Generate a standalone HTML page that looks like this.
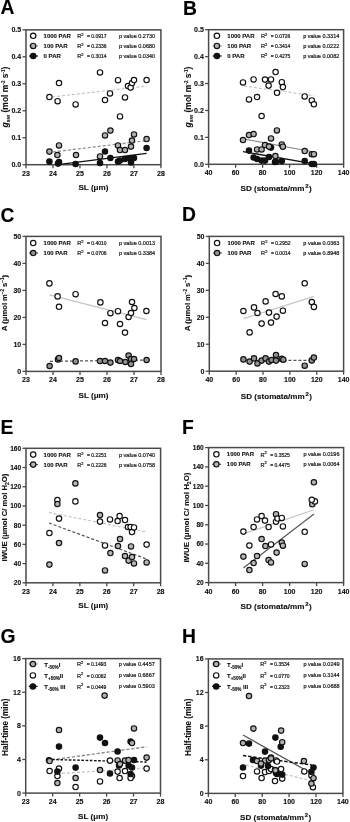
<!DOCTYPE html>
<html><head><meta charset="utf-8"><style>
html,body{margin:0;padding:0;background:#fff;}
svg{display:block;font-family:"Liberation Sans", sans-serif;filter:grayscale(1);}
text[font-weight=bold]{stroke:#111;stroke-width:0.12px;}
text.r{stroke:#222;stroke-width:0.22px;}
</style></head><body>
<svg width="350" height="822" viewBox="0 0 350 822">
<rect width="350" height="822" fill="#fff"/>
<text x="0.5" y="13.5" font-size="19.3" font-weight="bold" fill="#000">A</text>
<rect x="26" y="29.85" width="134.9" height="134.85" fill="none" stroke="#4a4a4a" stroke-width="1.5"/>
<line x1="22.5" y1="164.70" x2="26" y2="164.70" stroke="#4a4a4a" stroke-width="1.3"/>
<text x="21.2" y="167.10" font-size="7" font-weight="bold" text-anchor="end" fill="#111">0.0</text>
<line x1="22.5" y1="137.73" x2="26" y2="137.73" stroke="#4a4a4a" stroke-width="1.3"/>
<text x="21.2" y="140.13" font-size="7" font-weight="bold" text-anchor="end" fill="#111">0.1</text>
<line x1="22.5" y1="110.76" x2="26" y2="110.76" stroke="#4a4a4a" stroke-width="1.3"/>
<text x="21.2" y="113.16" font-size="7" font-weight="bold" text-anchor="end" fill="#111">0.2</text>
<line x1="22.5" y1="83.79" x2="26" y2="83.79" stroke="#4a4a4a" stroke-width="1.3"/>
<text x="21.2" y="86.19" font-size="7" font-weight="bold" text-anchor="end" fill="#111">0.3</text>
<line x1="22.5" y1="56.82" x2="26" y2="56.82" stroke="#4a4a4a" stroke-width="1.3"/>
<text x="21.2" y="59.22" font-size="7" font-weight="bold" text-anchor="end" fill="#111">0.4</text>
<line x1="22.5" y1="29.85" x2="26" y2="29.85" stroke="#4a4a4a" stroke-width="1.3"/>
<text x="21.2" y="32.25" font-size="7" font-weight="bold" text-anchor="end" fill="#111">0.5</text>
<line x1="26.00" y1="164.7" x2="26.00" y2="168.2" stroke="#4a4a4a" stroke-width="1.3"/>
<text x="26.00" y="175.7" font-size="7" font-weight="bold" text-anchor="middle" fill="#111">23</text>
<line x1="52.98" y1="164.7" x2="52.98" y2="168.2" stroke="#4a4a4a" stroke-width="1.3"/>
<text x="52.98" y="175.7" font-size="7" font-weight="bold" text-anchor="middle" fill="#111">24</text>
<line x1="79.96" y1="164.7" x2="79.96" y2="168.2" stroke="#4a4a4a" stroke-width="1.3"/>
<text x="79.96" y="175.7" font-size="7" font-weight="bold" text-anchor="middle" fill="#111">25</text>
<line x1="106.94" y1="164.7" x2="106.94" y2="168.2" stroke="#4a4a4a" stroke-width="1.3"/>
<text x="106.94" y="175.7" font-size="7" font-weight="bold" text-anchor="middle" fill="#111">26</text>
<line x1="133.92" y1="164.7" x2="133.92" y2="168.2" stroke="#4a4a4a" stroke-width="1.3"/>
<text x="133.92" y="175.7" font-size="7" font-weight="bold" text-anchor="middle" fill="#111">27</text>
<line x1="160.90" y1="164.7" x2="160.90" y2="168.2" stroke="#4a4a4a" stroke-width="1.3"/>
<text x="160.90" y="175.7" font-size="7" font-weight="bold" text-anchor="middle" fill="#111">28</text>
<text x="93.45" y="189.8" font-size="8.1" font-weight="bold" text-anchor="middle" fill="#111">SL (μm)</text>
<text transform="translate(8,97) rotate(-90)" x="0" y="0" font-size="8.5" font-weight="bold" text-anchor="middle" fill="#111"><tspan font-style="italic">g</tspan><tspan font-size="5.5" dy="2">sw</tspan><tspan dy="-2"> (mol m</tspan><tspan font-size="4.5" dy="-3">-2</tspan><tspan dy="3"> s</tspan><tspan font-size="4.5" dy="-3">-1</tspan><tspan dy="3">)</tspan></text>
<line x1="52" y1="97" x2="147" y2="86" stroke="#c4c4c4" stroke-width="1.2" stroke-dasharray="3,2"/>
<line x1="53" y1="152" x2="146.6" y2="140.6" stroke="#8a8a8a" stroke-width="1.2" stroke-dasharray="3,2"/>
<line x1="60" y1="164.4" x2="146.6" y2="153.4" stroke="#111" stroke-width="1.3"/>
<circle cx="49.4" cy="97" r="2.7" fill="#fff" stroke="#111" stroke-width="1.15"/>
<circle cx="57.6" cy="101.2" r="2.7" fill="#fff" stroke="#111" stroke-width="1.15"/>
<circle cx="59" cy="83" r="2.7" fill="#fff" stroke="#111" stroke-width="1.15"/>
<circle cx="75.6" cy="104.4" r="2.7" fill="#fff" stroke="#111" stroke-width="1.15"/>
<circle cx="100" cy="72.4" r="2.7" fill="#fff" stroke="#111" stroke-width="1.15"/>
<circle cx="105" cy="100" r="2.7" fill="#fff" stroke="#111" stroke-width="1.15"/>
<circle cx="110" cy="93.4" r="2.7" fill="#fff" stroke="#111" stroke-width="1.15"/>
<circle cx="118" cy="80.2" r="2.7" fill="#fff" stroke="#111" stroke-width="1.15"/>
<circle cx="120" cy="116.4" r="2.7" fill="#fff" stroke="#111" stroke-width="1.15"/>
<circle cx="125" cy="97.4" r="2.7" fill="#fff" stroke="#111" stroke-width="1.15"/>
<circle cx="128" cy="86" r="2.7" fill="#fff" stroke="#111" stroke-width="1.15"/>
<circle cx="130.6" cy="87.6" r="2.7" fill="#fff" stroke="#111" stroke-width="1.15"/>
<circle cx="132" cy="83" r="2.7" fill="#fff" stroke="#111" stroke-width="1.15"/>
<circle cx="134" cy="80" r="2.7" fill="#fff" stroke="#111" stroke-width="1.15"/>
<circle cx="146.6" cy="80" r="2.7" fill="#fff" stroke="#111" stroke-width="1.15"/>
<circle cx="49.4" cy="161.6" r="2.7" fill="#111" stroke="#111" stroke-width="1.15"/>
<circle cx="58" cy="163.6" r="2.7" fill="#111" stroke="#111" stroke-width="1.15"/>
<circle cx="59" cy="162" r="2.7" fill="#111" stroke="#111" stroke-width="1.15"/>
<circle cx="75.6" cy="164" r="2.7" fill="#111" stroke="#111" stroke-width="1.15"/>
<circle cx="100" cy="163" r="2.7" fill="#111" stroke="#111" stroke-width="1.15"/>
<circle cx="105" cy="151.4" r="2.7" fill="#111" stroke="#111" stroke-width="1.15"/>
<circle cx="110.4" cy="158" r="2.7" fill="#111" stroke="#111" stroke-width="1.15"/>
<circle cx="118" cy="161.6" r="2.7" fill="#111" stroke="#111" stroke-width="1.15"/>
<circle cx="120" cy="160.6" r="2.7" fill="#111" stroke="#111" stroke-width="1.15"/>
<circle cx="125" cy="159" r="2.7" fill="#111" stroke="#111" stroke-width="1.15"/>
<circle cx="130" cy="158" r="2.7" fill="#111" stroke="#111" stroke-width="1.15"/>
<circle cx="131" cy="162.4" r="2.7" fill="#111" stroke="#111" stroke-width="1.15"/>
<circle cx="134" cy="158" r="2.7" fill="#111" stroke="#111" stroke-width="1.15"/>
<circle cx="146.6" cy="148" r="2.7" fill="#111" stroke="#111" stroke-width="1.15"/>
<circle cx="49.4" cy="151.6" r="2.7" fill="#b0b0b0" stroke="#111" stroke-width="1.15"/>
<circle cx="57.4" cy="155" r="2.7" fill="#b0b0b0" stroke="#111" stroke-width="1.15"/>
<circle cx="59" cy="145.4" r="2.7" fill="#b0b0b0" stroke="#111" stroke-width="1.15"/>
<circle cx="76" cy="155" r="2.7" fill="#b0b0b0" stroke="#111" stroke-width="1.15"/>
<circle cx="100" cy="156.4" r="2.7" fill="#b0b0b0" stroke="#111" stroke-width="1.15"/>
<circle cx="105" cy="135.4" r="2.7" fill="#b0b0b0" stroke="#111" stroke-width="1.15"/>
<circle cx="110.4" cy="130.6" r="2.7" fill="#b0b0b0" stroke="#111" stroke-width="1.15"/>
<circle cx="118" cy="145.4" r="2.7" fill="#b0b0b0" stroke="#111" stroke-width="1.15"/>
<circle cx="120" cy="150" r="2.7" fill="#b0b0b0" stroke="#111" stroke-width="1.15"/>
<circle cx="125" cy="150" r="2.7" fill="#b0b0b0" stroke="#111" stroke-width="1.15"/>
<circle cx="131" cy="146.6" r="2.7" fill="#b0b0b0" stroke="#111" stroke-width="1.15"/>
<circle cx="132" cy="140.6" r="2.7" fill="#b0b0b0" stroke="#111" stroke-width="1.15"/>
<circle cx="134" cy="134.4" r="2.7" fill="#b0b0b0" stroke="#111" stroke-width="1.15"/>
<circle cx="146.6" cy="139" r="2.7" fill="#b0b0b0" stroke="#111" stroke-width="1.15"/>
<line x1="29" y1="35.8" x2="38" y2="35.8" stroke="#e0e0e0" stroke-width="1.2"/>
<circle cx="33.2" cy="35.8" r="2.7" fill="#fff" stroke="#111" stroke-width="1.15"/>
<text x="43.6" y="37.9" font-size="6.0" font-weight="bold" fill="#111">1000 PAR</text>
<text x="77.2" y="38.099999999999994" font-size="5.6" fill="#222" class="r">R<tspan font-size="4" dy="-2.4">2</tspan></text>
<text x="87" y="38.099999999999994" font-size="5.0" fill="#222" class="r">= 0.0917</text>
<text x="119" y="37.8" font-size="5.5" fill="#222" class="r">p value 0.2730</text>
<line x1="29" y1="45.9" x2="38" y2="45.9" stroke="#8a8a8a" stroke-width="1.2"/>
<circle cx="33.2" cy="45.9" r="2.7" fill="#b0b0b0" stroke="#111" stroke-width="1.15"/>
<text x="43.6" y="48.0" font-size="6.0" font-weight="bold" fill="#111">100 PAR</text>
<text x="77.2" y="48.199999999999996" font-size="5.6" fill="#222" class="r">R<tspan font-size="4" dy="-2.4">2</tspan></text>
<text x="87" y="48.199999999999996" font-size="5.0" fill="#222" class="r">= 0.2336</text>
<text x="119" y="47.9" font-size="5.5" fill="#222" class="r">p value 0.0680</text>
<line x1="29" y1="56" x2="38" y2="56" stroke="#111" stroke-width="1.2"/>
<circle cx="33.2" cy="56" r="2.7" fill="#111" stroke="#111" stroke-width="1.15"/>
<text x="43.6" y="58.1" font-size="6.0" font-weight="bold" fill="#111">0 PAR</text>
<text x="77.2" y="58.3" font-size="5.6" fill="#222" class="r">R<tspan font-size="4" dy="-2.4">2</tspan></text>
<text x="87" y="58.3" font-size="5.0" fill="#222" class="r">= 0.3014</text>
<text x="119" y="58" font-size="5.5" fill="#222" class="r">p value 0.0340</text>
<text x="183" y="14.8" font-size="19.3" font-weight="bold" fill="#000">B</text>
<rect x="208.6" y="29.7" width="135.00000000000003" height="134.60000000000002" fill="none" stroke="#4a4a4a" stroke-width="1.5"/>
<line x1="205.1" y1="164.30" x2="208.6" y2="164.30" stroke="#4a4a4a" stroke-width="1.3"/>
<text x="203.79999999999998" y="166.70" font-size="7" font-weight="bold" text-anchor="end" fill="#111">0.0</text>
<line x1="205.1" y1="137.38" x2="208.6" y2="137.38" stroke="#4a4a4a" stroke-width="1.3"/>
<text x="203.79999999999998" y="139.78" font-size="7" font-weight="bold" text-anchor="end" fill="#111">0.1</text>
<line x1="205.1" y1="110.46" x2="208.6" y2="110.46" stroke="#4a4a4a" stroke-width="1.3"/>
<text x="203.79999999999998" y="112.86" font-size="7" font-weight="bold" text-anchor="end" fill="#111">0.2</text>
<line x1="205.1" y1="83.54" x2="208.6" y2="83.54" stroke="#4a4a4a" stroke-width="1.3"/>
<text x="203.79999999999998" y="85.94" font-size="7" font-weight="bold" text-anchor="end" fill="#111">0.3</text>
<line x1="205.1" y1="56.62" x2="208.6" y2="56.62" stroke="#4a4a4a" stroke-width="1.3"/>
<text x="203.79999999999998" y="59.02" font-size="7" font-weight="bold" text-anchor="end" fill="#111">0.4</text>
<line x1="205.1" y1="29.70" x2="208.6" y2="29.70" stroke="#4a4a4a" stroke-width="1.3"/>
<text x="203.79999999999998" y="32.10" font-size="7" font-weight="bold" text-anchor="end" fill="#111">0.5</text>
<line x1="208.60" y1="164.3" x2="208.60" y2="167.8" stroke="#4a4a4a" stroke-width="1.3"/>
<text x="208.60" y="175.3" font-size="7" font-weight="bold" text-anchor="middle" fill="#111">40</text>
<line x1="235.60" y1="164.3" x2="235.60" y2="167.8" stroke="#4a4a4a" stroke-width="1.3"/>
<text x="235.60" y="175.3" font-size="7" font-weight="bold" text-anchor="middle" fill="#111">60</text>
<line x1="262.60" y1="164.3" x2="262.60" y2="167.8" stroke="#4a4a4a" stroke-width="1.3"/>
<text x="262.60" y="175.3" font-size="7" font-weight="bold" text-anchor="middle" fill="#111">80</text>
<line x1="289.60" y1="164.3" x2="289.60" y2="167.8" stroke="#4a4a4a" stroke-width="1.3"/>
<text x="289.60" y="175.3" font-size="7" font-weight="bold" text-anchor="middle" fill="#111">100</text>
<line x1="316.60" y1="164.3" x2="316.60" y2="167.8" stroke="#4a4a4a" stroke-width="1.3"/>
<text x="316.60" y="175.3" font-size="7" font-weight="bold" text-anchor="middle" fill="#111">120</text>
<line x1="343.60" y1="164.3" x2="343.60" y2="167.8" stroke="#4a4a4a" stroke-width="1.3"/>
<text x="343.60" y="175.3" font-size="7" font-weight="bold" text-anchor="middle" fill="#111">140</text>
<text x="276.10" y="191.3" font-size="8.1" font-weight="bold" text-anchor="middle" fill="#111">SD (stomata/mm<tspan font-size="6" dx="0.9" dy="-2.9">2</tspan><tspan dy="2.9" dx="0.4">)</tspan></text>
<text transform="translate(190.5,97) rotate(-90)" x="0" y="0" font-size="8.5" font-weight="bold" text-anchor="middle" fill="#111"><tspan font-style="italic">g</tspan><tspan font-size="5.5" dy="2">sw</tspan><tspan dy="-2"> (mol m</tspan><tspan font-size="4.5" dy="-3">-2</tspan><tspan dy="3"> s</tspan><tspan font-size="4.5" dy="-3">-1</tspan><tspan dy="3">)</tspan></text>
<line x1="244" y1="86" x2="314" y2="95.7" stroke="#c4c4c4" stroke-width="1.2" stroke-dasharray="3,2"/>
<line x1="246" y1="139.4" x2="314" y2="152" stroke="#8a8a8a" stroke-width="1.2"/>
<line x1="243" y1="151.6" x2="314" y2="163.9" stroke="#111" stroke-width="1.3"/>
<circle cx="243" cy="82.4" r="2.7" fill="#fff" stroke="#111" stroke-width="1.15"/>
<circle cx="249" cy="99.4" r="2.7" fill="#fff" stroke="#111" stroke-width="1.15"/>
<circle cx="253.6" cy="79.4" r="2.7" fill="#fff" stroke="#111" stroke-width="1.15"/>
<circle cx="257" cy="97" r="2.7" fill="#fff" stroke="#111" stroke-width="1.15"/>
<circle cx="261.6" cy="116" r="2.7" fill="#fff" stroke="#111" stroke-width="1.15"/>
<circle cx="265" cy="79.6" r="2.7" fill="#fff" stroke="#111" stroke-width="1.15"/>
<circle cx="268.6" cy="85.6" r="2.7" fill="#fff" stroke="#111" stroke-width="1.15"/>
<circle cx="271" cy="79.4" r="2.7" fill="#fff" stroke="#111" stroke-width="1.15"/>
<circle cx="275.6" cy="72" r="2.7" fill="#fff" stroke="#111" stroke-width="1.15"/>
<circle cx="277" cy="92.8" r="2.7" fill="#fff" stroke="#111" stroke-width="1.15"/>
<circle cx="281.8" cy="82.2" r="2.7" fill="#fff" stroke="#111" stroke-width="1.15"/>
<circle cx="282.9" cy="87.1" r="2.7" fill="#fff" stroke="#111" stroke-width="1.15"/>
<circle cx="304.7" cy="96.4" r="2.7" fill="#fff" stroke="#111" stroke-width="1.15"/>
<circle cx="311.8" cy="100.4" r="2.7" fill="#fff" stroke="#111" stroke-width="1.15"/>
<circle cx="313.9" cy="104.3" r="2.7" fill="#fff" stroke="#111" stroke-width="1.15"/>
<circle cx="249" cy="150.6" r="2.7" fill="#111" stroke="#111" stroke-width="1.15"/>
<circle cx="253.6" cy="157.4" r="2.7" fill="#111" stroke="#111" stroke-width="1.15"/>
<circle cx="257" cy="159" r="2.7" fill="#111" stroke="#111" stroke-width="1.15"/>
<circle cx="261.6" cy="160.6" r="2.7" fill="#111" stroke="#111" stroke-width="1.15"/>
<circle cx="265" cy="160.6" r="2.7" fill="#111" stroke="#111" stroke-width="1.15"/>
<circle cx="269" cy="157" r="2.7" fill="#111" stroke="#111" stroke-width="1.15"/>
<circle cx="271" cy="147.6" r="2.7" fill="#111" stroke="#111" stroke-width="1.15"/>
<circle cx="275" cy="162" r="2.7" fill="#111" stroke="#111" stroke-width="1.15"/>
<circle cx="276" cy="161.7" r="2.7" fill="#111" stroke="#111" stroke-width="1.15"/>
<circle cx="281.8" cy="161" r="2.7" fill="#111" stroke="#111" stroke-width="1.15"/>
<circle cx="304.7" cy="161" r="2.7" fill="#111" stroke="#111" stroke-width="1.15"/>
<circle cx="311.8" cy="163.9" r="2.7" fill="#111" stroke="#111" stroke-width="1.15"/>
<circle cx="313.9" cy="163.9" r="2.7" fill="#111" stroke="#111" stroke-width="1.15"/>
<circle cx="243" cy="140" r="2.7" fill="#b0b0b0" stroke="#111" stroke-width="1.15"/>
<circle cx="249" cy="135" r="2.7" fill="#b0b0b0" stroke="#111" stroke-width="1.15"/>
<circle cx="253.6" cy="134" r="2.7" fill="#b0b0b0" stroke="#111" stroke-width="1.15"/>
<circle cx="257" cy="149.4" r="2.7" fill="#b0b0b0" stroke="#111" stroke-width="1.15"/>
<circle cx="261.6" cy="149.4" r="2.7" fill="#b0b0b0" stroke="#111" stroke-width="1.15"/>
<circle cx="265" cy="145" r="2.7" fill="#b0b0b0" stroke="#111" stroke-width="1.15"/>
<circle cx="269" cy="146.6" r="2.7" fill="#b0b0b0" stroke="#111" stroke-width="1.15"/>
<circle cx="271" cy="138.4" r="2.7" fill="#b0b0b0" stroke="#111" stroke-width="1.15"/>
<circle cx="276.9" cy="130.4" r="2.7" fill="#b0b0b0" stroke="#111" stroke-width="1.15"/>
<circle cx="275.4" cy="156" r="2.7" fill="#b0b0b0" stroke="#111" stroke-width="1.15"/>
<circle cx="281.8" cy="144.4" r="2.7" fill="#b0b0b0" stroke="#111" stroke-width="1.15"/>
<circle cx="282.9" cy="146.7" r="2.7" fill="#b0b0b0" stroke="#111" stroke-width="1.15"/>
<circle cx="304.7" cy="151" r="2.7" fill="#b0b0b0" stroke="#111" stroke-width="1.15"/>
<circle cx="311.8" cy="154.2" r="2.7" fill="#b0b0b0" stroke="#111" stroke-width="1.15"/>
<circle cx="313.9" cy="154.2" r="2.7" fill="#b0b0b0" stroke="#111" stroke-width="1.15"/>
<line x1="212.7" y1="35.8" x2="221.7" y2="35.8" stroke="#e0e0e0" stroke-width="1.2"/>
<circle cx="216.89999999999998" cy="35.8" r="2.7" fill="#fff" stroke="#111" stroke-width="1.15"/>
<text x="227.29999999999998" y="37.9" font-size="6.0" font-weight="bold" fill="#111">1000 PAR</text>
<text x="260.9" y="38.099999999999994" font-size="5.6" fill="#222" class="r">R<tspan font-size="4" dy="-2.4">2</tspan></text>
<text x="270.7" y="38.099999999999994" font-size="5.0" fill="#222" class="r">= 0.0726</text>
<text x="303.2" y="37.8" font-size="5.5" fill="#222" class="r">p value 0.3314</text>
<line x1="212.7" y1="45.9" x2="221.7" y2="45.9" stroke="#8a8a8a" stroke-width="1.2"/>
<circle cx="216.89999999999998" cy="45.9" r="2.7" fill="#b0b0b0" stroke="#111" stroke-width="1.15"/>
<text x="227.29999999999998" y="48.0" font-size="6.0" font-weight="bold" fill="#111">100 PAR</text>
<text x="260.9" y="48.199999999999996" font-size="5.6" fill="#222" class="r">R<tspan font-size="4" dy="-2.4">2</tspan></text>
<text x="270.7" y="48.199999999999996" font-size="5.0" fill="#222" class="r">= 0.3414</text>
<text x="303.2" y="47.9" font-size="5.5" fill="#222" class="r">p value 0.0222</text>
<line x1="212.7" y1="56" x2="221.7" y2="56" stroke="#111" stroke-width="1.2"/>
<circle cx="216.89999999999998" cy="56" r="2.7" fill="#111" stroke="#111" stroke-width="1.15"/>
<text x="227.29999999999998" y="58.1" font-size="6.0" font-weight="bold" fill="#111">0 PAR</text>
<text x="260.9" y="58.3" font-size="5.6" fill="#222" class="r">R<tspan font-size="4" dy="-2.4">2</tspan></text>
<text x="270.7" y="58.3" font-size="5.0" fill="#222" class="r">= 0.4275</text>
<text x="303.2" y="58" font-size="5.5" fill="#222" class="r">p value 0.0082</text>
<text x="0.5" y="221.5" font-size="19.3" font-weight="bold" fill="#000">C</text>
<rect x="26" y="236.4" width="135" height="134.99999999999997" fill="none" stroke="#4a4a4a" stroke-width="1.5"/>
<line x1="22.5" y1="371.40" x2="26" y2="371.40" stroke="#4a4a4a" stroke-width="1.3"/>
<text x="21.2" y="373.80" font-size="7" font-weight="bold" text-anchor="end" fill="#111">0</text>
<line x1="22.5" y1="344.40" x2="26" y2="344.40" stroke="#4a4a4a" stroke-width="1.3"/>
<text x="21.2" y="346.80" font-size="7" font-weight="bold" text-anchor="end" fill="#111">10</text>
<line x1="22.5" y1="317.40" x2="26" y2="317.40" stroke="#4a4a4a" stroke-width="1.3"/>
<text x="21.2" y="319.80" font-size="7" font-weight="bold" text-anchor="end" fill="#111">20</text>
<line x1="22.5" y1="290.40" x2="26" y2="290.40" stroke="#4a4a4a" stroke-width="1.3"/>
<text x="21.2" y="292.80" font-size="7" font-weight="bold" text-anchor="end" fill="#111">30</text>
<line x1="22.5" y1="263.40" x2="26" y2="263.40" stroke="#4a4a4a" stroke-width="1.3"/>
<text x="21.2" y="265.80" font-size="7" font-weight="bold" text-anchor="end" fill="#111">40</text>
<line x1="22.5" y1="236.40" x2="26" y2="236.40" stroke="#4a4a4a" stroke-width="1.3"/>
<text x="21.2" y="238.80" font-size="7" font-weight="bold" text-anchor="end" fill="#111">50</text>
<line x1="26.00" y1="371.4" x2="26.00" y2="374.9" stroke="#4a4a4a" stroke-width="1.3"/>
<text x="26.00" y="382.4" font-size="7" font-weight="bold" text-anchor="middle" fill="#111">23</text>
<line x1="53.00" y1="371.4" x2="53.00" y2="374.9" stroke="#4a4a4a" stroke-width="1.3"/>
<text x="53.00" y="382.4" font-size="7" font-weight="bold" text-anchor="middle" fill="#111">24</text>
<line x1="80.00" y1="371.4" x2="80.00" y2="374.9" stroke="#4a4a4a" stroke-width="1.3"/>
<text x="80.00" y="382.4" font-size="7" font-weight="bold" text-anchor="middle" fill="#111">25</text>
<line x1="107.00" y1="371.4" x2="107.00" y2="374.9" stroke="#4a4a4a" stroke-width="1.3"/>
<text x="107.00" y="382.4" font-size="7" font-weight="bold" text-anchor="middle" fill="#111">26</text>
<line x1="134.00" y1="371.4" x2="134.00" y2="374.9" stroke="#4a4a4a" stroke-width="1.3"/>
<text x="134.00" y="382.4" font-size="7" font-weight="bold" text-anchor="middle" fill="#111">27</text>
<line x1="161.00" y1="371.4" x2="161.00" y2="374.9" stroke="#4a4a4a" stroke-width="1.3"/>
<text x="161.00" y="382.4" font-size="7" font-weight="bold" text-anchor="middle" fill="#111">28</text>
<text x="93.50" y="398" font-size="8.1" font-weight="bold" text-anchor="middle" fill="#111">SL (μm)</text>
<text transform="translate(7.2,303) rotate(-90)" x="0" y="0" font-size="7.6" font-weight="bold" text-anchor="middle" fill="#111">A (μmol m<tspan font-size="4.5" dy="-3">−2</tspan><tspan dy="3"> s</tspan><tspan font-size="4.5" dy="-3">−1</tspan><tspan dy="3">)</tspan></text>
<line x1="49.4" y1="294.8" x2="146.6" y2="319.6" stroke="#c4c4c4" stroke-width="1.2"/>
<line x1="50" y1="361.4" x2="146.6" y2="360" stroke="#555555" stroke-width="1.2" stroke-dasharray="3,2"/>
<circle cx="49.4" cy="283.4" r="2.7" fill="#fff" stroke="#111" stroke-width="1.15"/>
<circle cx="57.6" cy="296.4" r="2.7" fill="#fff" stroke="#111" stroke-width="1.15"/>
<circle cx="59" cy="306.8" r="2.7" fill="#fff" stroke="#111" stroke-width="1.15"/>
<circle cx="75.6" cy="294.2" r="2.7" fill="#fff" stroke="#111" stroke-width="1.15"/>
<circle cx="100.4" cy="302.4" r="2.7" fill="#fff" stroke="#111" stroke-width="1.15"/>
<circle cx="105" cy="323" r="2.7" fill="#fff" stroke="#111" stroke-width="1.15"/>
<circle cx="110.4" cy="313.2" r="2.7" fill="#fff" stroke="#111" stroke-width="1.15"/>
<circle cx="118" cy="311.2" r="2.7" fill="#fff" stroke="#111" stroke-width="1.15"/>
<circle cx="120" cy="324" r="2.7" fill="#fff" stroke="#111" stroke-width="1.15"/>
<circle cx="125" cy="332.6" r="2.7" fill="#fff" stroke="#111" stroke-width="1.15"/>
<circle cx="128.6" cy="317" r="2.7" fill="#fff" stroke="#111" stroke-width="1.15"/>
<circle cx="131" cy="313" r="2.7" fill="#fff" stroke="#111" stroke-width="1.15"/>
<circle cx="132" cy="302" r="2.7" fill="#fff" stroke="#111" stroke-width="1.15"/>
<circle cx="134.4" cy="308" r="2.7" fill="#fff" stroke="#111" stroke-width="1.15"/>
<circle cx="146.4" cy="311" r="2.7" fill="#fff" stroke="#111" stroke-width="1.15"/>
<circle cx="49.6" cy="366" r="2.7" fill="#939393" stroke="#111" stroke-width="1.15"/>
<circle cx="58" cy="359.4" r="2.7" fill="#939393" stroke="#111" stroke-width="1.15"/>
<circle cx="59" cy="358" r="2.7" fill="#939393" stroke="#111" stroke-width="1.15"/>
<circle cx="75.6" cy="361.4" r="2.7" fill="#939393" stroke="#111" stroke-width="1.15"/>
<circle cx="100" cy="361" r="2.7" fill="#939393" stroke="#111" stroke-width="1.15"/>
<circle cx="105" cy="361" r="2.7" fill="#939393" stroke="#111" stroke-width="1.15"/>
<circle cx="110.4" cy="362.6" r="2.7" fill="#939393" stroke="#111" stroke-width="1.15"/>
<circle cx="118" cy="360" r="2.7" fill="#939393" stroke="#111" stroke-width="1.15"/>
<circle cx="120" cy="361" r="2.7" fill="#939393" stroke="#111" stroke-width="1.15"/>
<circle cx="125.4" cy="362" r="2.7" fill="#939393" stroke="#111" stroke-width="1.15"/>
<circle cx="128.6" cy="355.6" r="2.7" fill="#939393" stroke="#111" stroke-width="1.15"/>
<circle cx="131" cy="359" r="2.7" fill="#939393" stroke="#111" stroke-width="1.15"/>
<circle cx="134" cy="359" r="2.7" fill="#939393" stroke="#111" stroke-width="1.15"/>
<circle cx="131" cy="364" r="2.7" fill="#939393" stroke="#111" stroke-width="1.15"/>
<circle cx="146.6" cy="360" r="2.7" fill="#939393" stroke="#111" stroke-width="1.15"/>
<circle cx="33.2" cy="243" r="2.7" fill="#fff" stroke="#111" stroke-width="1.15"/>
<text x="43.6" y="245.1" font-size="6.0" font-weight="bold" fill="#111">1000 PAR</text>
<text x="77.2" y="245.3" font-size="5.6" fill="#222" class="r">R<tspan font-size="4" dy="-2.4">2</tspan></text>
<text x="87" y="245.3" font-size="5.0" fill="#222" class="r">= 0.4010</text>
<text x="119" y="245" font-size="5.5" fill="#222" class="r">p value 0.0013</text>
<line x1="29" y1="253" x2="38" y2="253" stroke="#555555" stroke-width="1.2"/>
<circle cx="33.2" cy="253" r="2.7" fill="#939393" stroke="#111" stroke-width="1.15"/>
<text x="43.6" y="255.1" font-size="6.0" font-weight="bold" fill="#111">100 PAR</text>
<text x="77.2" y="255.3" font-size="5.6" fill="#222" class="r">R<tspan font-size="4" dy="-2.4">2</tspan></text>
<text x="87" y="255.3" font-size="5.0" fill="#222" class="r">= 0.0706</text>
<text x="119" y="255" font-size="5.5" fill="#222" class="r">p value 0.3384</text>
<text x="182" y="221.3" font-size="19.3" font-weight="bold" fill="#000">D</text>
<rect x="209.3" y="236.4" width="134.3" height="134.79999999999998" fill="none" stroke="#4a4a4a" stroke-width="1.5"/>
<line x1="205.8" y1="371.20" x2="209.3" y2="371.20" stroke="#4a4a4a" stroke-width="1.3"/>
<text x="204.5" y="373.60" font-size="7" font-weight="bold" text-anchor="end" fill="#111">0</text>
<line x1="205.8" y1="344.24" x2="209.3" y2="344.24" stroke="#4a4a4a" stroke-width="1.3"/>
<text x="204.5" y="346.64" font-size="7" font-weight="bold" text-anchor="end" fill="#111">10</text>
<line x1="205.8" y1="317.28" x2="209.3" y2="317.28" stroke="#4a4a4a" stroke-width="1.3"/>
<text x="204.5" y="319.68" font-size="7" font-weight="bold" text-anchor="end" fill="#111">20</text>
<line x1="205.8" y1="290.32" x2="209.3" y2="290.32" stroke="#4a4a4a" stroke-width="1.3"/>
<text x="204.5" y="292.72" font-size="7" font-weight="bold" text-anchor="end" fill="#111">30</text>
<line x1="205.8" y1="263.36" x2="209.3" y2="263.36" stroke="#4a4a4a" stroke-width="1.3"/>
<text x="204.5" y="265.76" font-size="7" font-weight="bold" text-anchor="end" fill="#111">40</text>
<line x1="205.8" y1="236.40" x2="209.3" y2="236.40" stroke="#4a4a4a" stroke-width="1.3"/>
<text x="204.5" y="238.80" font-size="7" font-weight="bold" text-anchor="end" fill="#111">50</text>
<line x1="209.30" y1="371.2" x2="209.30" y2="374.7" stroke="#4a4a4a" stroke-width="1.3"/>
<text x="209.30" y="382.2" font-size="7" font-weight="bold" text-anchor="middle" fill="#111">40</text>
<line x1="236.16" y1="371.2" x2="236.16" y2="374.7" stroke="#4a4a4a" stroke-width="1.3"/>
<text x="236.16" y="382.2" font-size="7" font-weight="bold" text-anchor="middle" fill="#111">60</text>
<line x1="263.02" y1="371.2" x2="263.02" y2="374.7" stroke="#4a4a4a" stroke-width="1.3"/>
<text x="263.02" y="382.2" font-size="7" font-weight="bold" text-anchor="middle" fill="#111">80</text>
<line x1="289.88" y1="371.2" x2="289.88" y2="374.7" stroke="#4a4a4a" stroke-width="1.3"/>
<text x="289.88" y="382.2" font-size="7" font-weight="bold" text-anchor="middle" fill="#111">100</text>
<line x1="316.74" y1="371.2" x2="316.74" y2="374.7" stroke="#4a4a4a" stroke-width="1.3"/>
<text x="316.74" y="382.2" font-size="7" font-weight="bold" text-anchor="middle" fill="#111">120</text>
<line x1="343.60" y1="371.2" x2="343.60" y2="374.7" stroke="#4a4a4a" stroke-width="1.3"/>
<text x="343.60" y="382.2" font-size="7" font-weight="bold" text-anchor="middle" fill="#111">140</text>
<text x="276.45" y="399" font-size="8.1" font-weight="bold" text-anchor="middle" fill="#111">SD (stomata/mm<tspan font-size="6" dx="0.9" dy="-2.9">2</tspan><tspan dy="2.9" dx="0.4">)</tspan></text>
<text transform="translate(189.8,303) rotate(-90)" x="0" y="0" font-size="7.6" font-weight="bold" text-anchor="middle" fill="#111">A (μmol m<tspan font-size="4.5" dy="-3">−2</tspan><tspan dy="3"> s</tspan><tspan font-size="4.5" dy="-3">−1</tspan><tspan dy="3">)</tspan></text>
<line x1="243.4" y1="318.6" x2="314" y2="296.4" stroke="#c4c4c4" stroke-width="1.2"/>
<line x1="243.4" y1="360.3" x2="314" y2="360.4" stroke="#555555" stroke-width="1.2" stroke-dasharray="3,2"/>
<circle cx="243.4" cy="311" r="2.7" fill="#fff" stroke="#111" stroke-width="1.15"/>
<circle cx="249.6" cy="332.4" r="2.7" fill="#fff" stroke="#111" stroke-width="1.15"/>
<circle cx="254" cy="307.4" r="2.7" fill="#fff" stroke="#111" stroke-width="1.15"/>
<circle cx="257.4" cy="313" r="2.7" fill="#fff" stroke="#111" stroke-width="1.15"/>
<circle cx="261.6" cy="323.6" r="2.7" fill="#fff" stroke="#111" stroke-width="1.15"/>
<circle cx="265.6" cy="301.4" r="2.7" fill="#fff" stroke="#111" stroke-width="1.15"/>
<circle cx="269" cy="312.6" r="2.7" fill="#fff" stroke="#111" stroke-width="1.15"/>
<circle cx="271" cy="322.6" r="2.7" fill="#fff" stroke="#111" stroke-width="1.15"/>
<circle cx="275.6" cy="294" r="2.7" fill="#fff" stroke="#111" stroke-width="1.15"/>
<circle cx="276.6" cy="316.6" r="2.7" fill="#fff" stroke="#111" stroke-width="1.15"/>
<circle cx="281.8" cy="296.4" r="2.7" fill="#fff" stroke="#111" stroke-width="1.15"/>
<circle cx="282.9" cy="310.7" r="2.7" fill="#fff" stroke="#111" stroke-width="1.15"/>
<circle cx="304.7" cy="283.3" r="2.7" fill="#fff" stroke="#111" stroke-width="1.15"/>
<circle cx="311.8" cy="302.1" r="2.7" fill="#fff" stroke="#111" stroke-width="1.15"/>
<circle cx="313.9" cy="306.9" r="2.7" fill="#fff" stroke="#111" stroke-width="1.15"/>
<circle cx="243.4" cy="359.4" r="2.7" fill="#939393" stroke="#111" stroke-width="1.15"/>
<circle cx="249.6" cy="361.6" r="2.7" fill="#939393" stroke="#111" stroke-width="1.15"/>
<circle cx="254" cy="358.4" r="2.7" fill="#939393" stroke="#111" stroke-width="1.15"/>
<circle cx="257.4" cy="363.4" r="2.7" fill="#939393" stroke="#111" stroke-width="1.15"/>
<circle cx="261.6" cy="360.6" r="2.7" fill="#939393" stroke="#111" stroke-width="1.15"/>
<circle cx="265.6" cy="358.4" r="2.7" fill="#939393" stroke="#111" stroke-width="1.15"/>
<circle cx="269" cy="361.6" r="2.7" fill="#939393" stroke="#111" stroke-width="1.15"/>
<circle cx="271.6" cy="360" r="2.7" fill="#939393" stroke="#111" stroke-width="1.15"/>
<circle cx="276" cy="355" r="2.7" fill="#939393" stroke="#111" stroke-width="1.15"/>
<circle cx="276" cy="360.6" r="2.7" fill="#939393" stroke="#111" stroke-width="1.15"/>
<circle cx="281.8" cy="358.9" r="2.7" fill="#939393" stroke="#111" stroke-width="1.15"/>
<circle cx="283.3" cy="359.7" r="2.7" fill="#939393" stroke="#111" stroke-width="1.15"/>
<circle cx="304.7" cy="365.7" r="2.7" fill="#939393" stroke="#111" stroke-width="1.15"/>
<circle cx="311.8" cy="360.4" r="2.7" fill="#939393" stroke="#111" stroke-width="1.15"/>
<circle cx="313.9" cy="357.6" r="2.7" fill="#939393" stroke="#111" stroke-width="1.15"/>
<circle cx="217.1" cy="243" r="2.7" fill="#fff" stroke="#111" stroke-width="1.15"/>
<text x="227.5" y="245.1" font-size="6.0" font-weight="bold" fill="#111">1000 PAR</text>
<text x="261.1" y="245.3" font-size="5.6" fill="#222" class="r">R<tspan font-size="4" dy="-2.4">2</tspan></text>
<text x="270.9" y="245.3" font-size="5.0" fill="#222" class="r">= 0.2952</text>
<text x="303.29999999999995" y="245" font-size="5.5" fill="#222" class="r">p value 0.0363</text>
<line x1="212.9" y1="253" x2="221.9" y2="253" stroke="#555555" stroke-width="1.2"/>
<circle cx="217.1" cy="253" r="2.7" fill="#939393" stroke="#111" stroke-width="1.15"/>
<text x="227.5" y="255.1" font-size="6.0" font-weight="bold" fill="#111">100 PAR</text>
<text x="261.1" y="255.3" font-size="5.6" fill="#222" class="r">R<tspan font-size="4" dy="-2.4">2</tspan></text>
<text x="270.9" y="255.3" font-size="5.0" fill="#222" class="r">= 0.0014</text>
<text x="303.29999999999995" y="255" font-size="5.5" fill="#222" class="r">p value 0.8948</text>
<text x="0.5" y="433.5" font-size="19.3" font-weight="bold" fill="#000">E</text>
<rect x="26" y="448.3" width="134.6" height="134.49999999999994" fill="none" stroke="#4a4a4a" stroke-width="1.5"/>
<line x1="22.5" y1="582.80" x2="26" y2="582.80" stroke="#4a4a4a" stroke-width="1.3"/>
<text x="21.2" y="585.20" font-size="6.6" font-weight="bold" text-anchor="end" fill="#111">20</text>
<line x1="22.5" y1="563.59" x2="26" y2="563.59" stroke="#4a4a4a" stroke-width="1.3"/>
<text x="21.2" y="565.99" font-size="6.6" font-weight="bold" text-anchor="end" fill="#111">40</text>
<line x1="22.5" y1="544.37" x2="26" y2="544.37" stroke="#4a4a4a" stroke-width="1.3"/>
<text x="21.2" y="546.77" font-size="6.6" font-weight="bold" text-anchor="end" fill="#111">60</text>
<line x1="22.5" y1="525.16" x2="26" y2="525.16" stroke="#4a4a4a" stroke-width="1.3"/>
<text x="21.2" y="527.56" font-size="6.6" font-weight="bold" text-anchor="end" fill="#111">80</text>
<line x1="22.5" y1="505.94" x2="26" y2="505.94" stroke="#4a4a4a" stroke-width="1.3"/>
<text x="21.2" y="508.34" font-size="6.6" font-weight="bold" text-anchor="end" fill="#111">100</text>
<line x1="22.5" y1="486.73" x2="26" y2="486.73" stroke="#4a4a4a" stroke-width="1.3"/>
<text x="21.2" y="489.13" font-size="6.6" font-weight="bold" text-anchor="end" fill="#111">120</text>
<line x1="22.5" y1="467.51" x2="26" y2="467.51" stroke="#4a4a4a" stroke-width="1.3"/>
<text x="21.2" y="469.91" font-size="6.6" font-weight="bold" text-anchor="end" fill="#111">140</text>
<line x1="22.5" y1="448.30" x2="26" y2="448.30" stroke="#4a4a4a" stroke-width="1.3"/>
<text x="21.2" y="450.70" font-size="6.6" font-weight="bold" text-anchor="end" fill="#111">160</text>
<line x1="26.00" y1="582.8" x2="26.00" y2="586.3" stroke="#4a4a4a" stroke-width="1.3"/>
<text x="26.00" y="593.8" font-size="7" font-weight="bold" text-anchor="middle" fill="#111">23</text>
<line x1="52.92" y1="582.8" x2="52.92" y2="586.3" stroke="#4a4a4a" stroke-width="1.3"/>
<text x="52.92" y="593.8" font-size="7" font-weight="bold" text-anchor="middle" fill="#111">24</text>
<line x1="79.84" y1="582.8" x2="79.84" y2="586.3" stroke="#4a4a4a" stroke-width="1.3"/>
<text x="79.84" y="593.8" font-size="7" font-weight="bold" text-anchor="middle" fill="#111">25</text>
<line x1="106.76" y1="582.8" x2="106.76" y2="586.3" stroke="#4a4a4a" stroke-width="1.3"/>
<text x="106.76" y="593.8" font-size="7" font-weight="bold" text-anchor="middle" fill="#111">26</text>
<line x1="133.68" y1="582.8" x2="133.68" y2="586.3" stroke="#4a4a4a" stroke-width="1.3"/>
<text x="133.68" y="593.8" font-size="7" font-weight="bold" text-anchor="middle" fill="#111">27</text>
<line x1="160.60" y1="582.8" x2="160.60" y2="586.3" stroke="#4a4a4a" stroke-width="1.3"/>
<text x="160.60" y="593.8" font-size="7" font-weight="bold" text-anchor="middle" fill="#111">28</text>
<text x="93.30" y="607.6" font-size="8.1" font-weight="bold" text-anchor="middle" fill="#111">SL (μm)</text>
<text transform="translate(6.9,517.6) rotate(-90)" x="0" y="0" font-size="7.7" font-weight="bold" text-anchor="middle" fill="#111">iWUE (μmol C/ mol H<tspan font-size="5" dy="2">2</tspan><tspan dy="-2">O)</tspan></text>
<line x1="49" y1="512.6" x2="146.6" y2="532" stroke="#c4c4c4" stroke-width="1.2" stroke-dasharray="3,2"/>
<line x1="49" y1="523" x2="146.6" y2="559" stroke="#555555" stroke-width="1.2" stroke-dasharray="3,2"/>
<circle cx="49.4" cy="533" r="2.7" fill="#fff" stroke="#111" stroke-width="1.15"/>
<circle cx="57.4" cy="500" r="2.7" fill="#fff" stroke="#111" stroke-width="1.15"/>
<circle cx="59" cy="518.6" r="2.7" fill="#fff" stroke="#111" stroke-width="1.15"/>
<circle cx="75.4" cy="501.4" r="2.7" fill="#fff" stroke="#111" stroke-width="1.15"/>
<circle cx="100" cy="521.6" r="2.7" fill="#fff" stroke="#111" stroke-width="1.15"/>
<circle cx="105" cy="545.4" r="2.7" fill="#fff" stroke="#111" stroke-width="1.15"/>
<circle cx="110" cy="519.4" r="2.7" fill="#fff" stroke="#111" stroke-width="1.15"/>
<circle cx="117.6" cy="521" r="2.7" fill="#fff" stroke="#111" stroke-width="1.15"/>
<circle cx="119.6" cy="516" r="2.7" fill="#fff" stroke="#111" stroke-width="1.15"/>
<circle cx="125" cy="520" r="2.7" fill="#fff" stroke="#111" stroke-width="1.15"/>
<circle cx="128" cy="527" r="2.7" fill="#fff" stroke="#111" stroke-width="1.15"/>
<circle cx="130.6" cy="527" r="2.7" fill="#fff" stroke="#111" stroke-width="1.15"/>
<circle cx="132" cy="532" r="2.7" fill="#fff" stroke="#111" stroke-width="1.15"/>
<circle cx="134" cy="527.4" r="2.7" fill="#fff" stroke="#111" stroke-width="1.15"/>
<circle cx="146.6" cy="544.6" r="2.7" fill="#fff" stroke="#111" stroke-width="1.15"/>
<circle cx="49.4" cy="564.6" r="2.7" fill="#b6b6b6" stroke="#111" stroke-width="1.15"/>
<circle cx="57.4" cy="504" r="2.7" fill="#b6b6b6" stroke="#111" stroke-width="1.15"/>
<circle cx="59" cy="543" r="2.7" fill="#b6b6b6" stroke="#111" stroke-width="1.15"/>
<circle cx="75.4" cy="483.4" r="2.7" fill="#b6b6b6" stroke="#111" stroke-width="1.15"/>
<circle cx="100" cy="515" r="2.7" fill="#b6b6b6" stroke="#111" stroke-width="1.15"/>
<circle cx="105" cy="570.4" r="2.7" fill="#b6b6b6" stroke="#111" stroke-width="1.15"/>
<circle cx="110.4" cy="553" r="2.7" fill="#b6b6b6" stroke="#111" stroke-width="1.15"/>
<circle cx="118" cy="546" r="2.7" fill="#b6b6b6" stroke="#111" stroke-width="1.15"/>
<circle cx="120" cy="539" r="2.7" fill="#b6b6b6" stroke="#111" stroke-width="1.15"/>
<circle cx="125" cy="556" r="2.7" fill="#b6b6b6" stroke="#111" stroke-width="1.15"/>
<circle cx="128.6" cy="560.6" r="2.7" fill="#b6b6b6" stroke="#111" stroke-width="1.15"/>
<circle cx="131" cy="546.4" r="2.7" fill="#b6b6b6" stroke="#111" stroke-width="1.15"/>
<circle cx="132" cy="557" r="2.7" fill="#b6b6b6" stroke="#111" stroke-width="1.15"/>
<circle cx="134" cy="563.4" r="2.7" fill="#b6b6b6" stroke="#111" stroke-width="1.15"/>
<circle cx="146.6" cy="562.4" r="2.7" fill="#b6b6b6" stroke="#111" stroke-width="1.15"/>
<circle cx="33.2" cy="454.6" r="2.7" fill="#fff" stroke="#111" stroke-width="1.15"/>
<text x="43.6" y="456.70000000000005" font-size="6.0" font-weight="bold" fill="#111">1000 PAR</text>
<text x="77.2" y="456.90000000000003" font-size="5.6" fill="#222" class="r">R<tspan font-size="4" dy="-2.4">2</tspan></text>
<text x="87" y="456.90000000000003" font-size="5.0" fill="#222" class="r">= 0.2251</text>
<text x="119" y="456.6" font-size="5.5" fill="#222" class="r">p value 0.0740</text>
<line x1="29" y1="464.6" x2="38" y2="464.6" stroke="#555555" stroke-width="1.2"/>
<circle cx="33.2" cy="464.6" r="2.7" fill="#b6b6b6" stroke="#111" stroke-width="1.15"/>
<text x="43.6" y="466.70000000000005" font-size="6.0" font-weight="bold" fill="#111">100 PAR</text>
<text x="77.2" y="466.90000000000003" font-size="5.6" fill="#222" class="r">R<tspan font-size="4" dy="-2.4">2</tspan></text>
<text x="87" y="466.90000000000003" font-size="5.0" fill="#222" class="r">= 0.2226</text>
<text x="119" y="466.6" font-size="5.5" fill="#222" class="r">p value 0.0758</text>
<text x="182" y="433.5" font-size="19.3" font-weight="bold" fill="#000">F</text>
<rect x="208.6" y="447.6" width="135.00000000000003" height="135.0" fill="none" stroke="#4a4a4a" stroke-width="1.5"/>
<line x1="205.1" y1="582.60" x2="208.6" y2="582.60" stroke="#4a4a4a" stroke-width="1.3"/>
<text x="203.79999999999998" y="585.00" font-size="6.6" font-weight="bold" text-anchor="end" fill="#111">20</text>
<line x1="205.1" y1="563.31" x2="208.6" y2="563.31" stroke="#4a4a4a" stroke-width="1.3"/>
<text x="203.79999999999998" y="565.71" font-size="6.6" font-weight="bold" text-anchor="end" fill="#111">40</text>
<line x1="205.1" y1="544.03" x2="208.6" y2="544.03" stroke="#4a4a4a" stroke-width="1.3"/>
<text x="203.79999999999998" y="546.43" font-size="6.6" font-weight="bold" text-anchor="end" fill="#111">60</text>
<line x1="205.1" y1="524.74" x2="208.6" y2="524.74" stroke="#4a4a4a" stroke-width="1.3"/>
<text x="203.79999999999998" y="527.14" font-size="6.6" font-weight="bold" text-anchor="end" fill="#111">80</text>
<line x1="205.1" y1="505.46" x2="208.6" y2="505.46" stroke="#4a4a4a" stroke-width="1.3"/>
<text x="203.79999999999998" y="507.86" font-size="6.6" font-weight="bold" text-anchor="end" fill="#111">100</text>
<line x1="205.1" y1="486.17" x2="208.6" y2="486.17" stroke="#4a4a4a" stroke-width="1.3"/>
<text x="203.79999999999998" y="488.57" font-size="6.6" font-weight="bold" text-anchor="end" fill="#111">120</text>
<line x1="205.1" y1="466.89" x2="208.6" y2="466.89" stroke="#4a4a4a" stroke-width="1.3"/>
<text x="203.79999999999998" y="469.29" font-size="6.6" font-weight="bold" text-anchor="end" fill="#111">140</text>
<line x1="205.1" y1="447.60" x2="208.6" y2="447.60" stroke="#4a4a4a" stroke-width="1.3"/>
<text x="203.79999999999998" y="450.00" font-size="6.6" font-weight="bold" text-anchor="end" fill="#111">160</text>
<line x1="208.60" y1="582.6" x2="208.60" y2="586.1" stroke="#4a4a4a" stroke-width="1.3"/>
<text x="208.60" y="593.6" font-size="7" font-weight="bold" text-anchor="middle" fill="#111">40</text>
<line x1="235.60" y1="582.6" x2="235.60" y2="586.1" stroke="#4a4a4a" stroke-width="1.3"/>
<text x="235.60" y="593.6" font-size="7" font-weight="bold" text-anchor="middle" fill="#111">60</text>
<line x1="262.60" y1="582.6" x2="262.60" y2="586.1" stroke="#4a4a4a" stroke-width="1.3"/>
<text x="262.60" y="593.6" font-size="7" font-weight="bold" text-anchor="middle" fill="#111">80</text>
<line x1="289.60" y1="582.6" x2="289.60" y2="586.1" stroke="#4a4a4a" stroke-width="1.3"/>
<text x="289.60" y="593.6" font-size="7" font-weight="bold" text-anchor="middle" fill="#111">100</text>
<line x1="316.60" y1="582.6" x2="316.60" y2="586.1" stroke="#4a4a4a" stroke-width="1.3"/>
<text x="316.60" y="593.6" font-size="7" font-weight="bold" text-anchor="middle" fill="#111">120</text>
<line x1="343.60" y1="582.6" x2="343.60" y2="586.1" stroke="#4a4a4a" stroke-width="1.3"/>
<text x="343.60" y="593.6" font-size="7" font-weight="bold" text-anchor="middle" fill="#111">140</text>
<text x="276.10" y="608.5" font-size="8.1" font-weight="bold" text-anchor="middle" fill="#111">SD (stomata/mm<tspan font-size="6" dx="0.9" dy="-2.9">2</tspan><tspan dy="2.9" dx="0.4">)</tspan></text>
<text transform="translate(189.0,517.6) rotate(-90)" x="0" y="0" font-size="7.9" font-weight="bold" text-anchor="middle" fill="#111">iWUE (μmol C/ mol H<tspan font-size="5" dy="2">2</tspan><tspan dy="-2">O)</tspan></text>
<line x1="243.4" y1="533.9" x2="314" y2="509.7" stroke="#c4c4c4" stroke-width="1.2"/>
<line x1="243.4" y1="568" x2="314" y2="514" stroke="#555555" stroke-width="1.2"/>
<circle cx="243.4" cy="556.6" r="2.7" fill="#b6b6b6" stroke="#111" stroke-width="1.15"/>
<circle cx="249.4" cy="570" r="2.7" fill="#b6b6b6" stroke="#111" stroke-width="1.15"/>
<circle cx="253.6" cy="563" r="2.7" fill="#b6b6b6" stroke="#111" stroke-width="1.15"/>
<circle cx="257" cy="556" r="2.7" fill="#b6b6b6" stroke="#111" stroke-width="1.15"/>
<circle cx="261.6" cy="539" r="2.7" fill="#b6b6b6" stroke="#111" stroke-width="1.15"/>
<circle cx="265.4" cy="546" r="2.7" fill="#b6b6b6" stroke="#111" stroke-width="1.15"/>
<circle cx="268.6" cy="560" r="2.7" fill="#b6b6b6" stroke="#111" stroke-width="1.15"/>
<circle cx="271" cy="562.4" r="2.7" fill="#b6b6b6" stroke="#111" stroke-width="1.15"/>
<circle cx="276" cy="514.2" r="2.7" fill="#b6b6b6" stroke="#111" stroke-width="1.15"/>
<circle cx="276.6" cy="552.6" r="2.7" fill="#b6b6b6" stroke="#111" stroke-width="1.15"/>
<circle cx="281.8" cy="542.5" r="2.7" fill="#b6b6b6" stroke="#111" stroke-width="1.15"/>
<circle cx="282.9" cy="545.7" r="2.7" fill="#b6b6b6" stroke="#111" stroke-width="1.15"/>
<circle cx="304.7" cy="563.9" r="2.7" fill="#b6b6b6" stroke="#111" stroke-width="1.15"/>
<circle cx="312.3" cy="504.3" r="2.7" fill="#b6b6b6" stroke="#111" stroke-width="1.15"/>
<circle cx="313.9" cy="482.3" r="2.7" fill="#b6b6b6" stroke="#111" stroke-width="1.15"/>
<circle cx="243.4" cy="531.6" r="2.7" fill="#fff" stroke="#111" stroke-width="1.15"/>
<circle cx="249.4" cy="545.6" r="2.7" fill="#fff" stroke="#111" stroke-width="1.15"/>
<circle cx="253.6" cy="527" r="2.7" fill="#fff" stroke="#111" stroke-width="1.15"/>
<circle cx="257" cy="519.4" r="2.7" fill="#fff" stroke="#111" stroke-width="1.15"/>
<circle cx="261.6" cy="516" r="2.7" fill="#fff" stroke="#111" stroke-width="1.15"/>
<circle cx="265" cy="520.6" r="2.7" fill="#fff" stroke="#111" stroke-width="1.15"/>
<circle cx="268.6" cy="527" r="2.7" fill="#fff" stroke="#111" stroke-width="1.15"/>
<circle cx="271" cy="544.4" r="2.7" fill="#fff" stroke="#111" stroke-width="1.15"/>
<circle cx="276" cy="521.7" r="2.7" fill="#fff" stroke="#111" stroke-width="1.15"/>
<circle cx="277.5" cy="518.5" r="2.7" fill="#fff" stroke="#111" stroke-width="1.15"/>
<circle cx="281.8" cy="517.9" r="2.7" fill="#fff" stroke="#111" stroke-width="1.15"/>
<circle cx="282.9" cy="526.4" r="2.7" fill="#fff" stroke="#111" stroke-width="1.15"/>
<circle cx="304.7" cy="531.8" r="2.7" fill="#fff" stroke="#111" stroke-width="1.15"/>
<circle cx="314.9" cy="501.4" r="2.7" fill="#fff" stroke="#111" stroke-width="1.15"/>
<circle cx="311.8" cy="499.8" r="2.7" fill="#fff" stroke="#111" stroke-width="1.15"/>
<circle cx="216.39999999999998" cy="454.3" r="2.7" fill="#fff" stroke="#111" stroke-width="1.15"/>
<text x="226.79999999999998" y="456.40000000000003" font-size="6.0" font-weight="bold" fill="#111">1000 PAR</text>
<text x="260.4" y="456.6" font-size="5.6" fill="#222" class="r">R<tspan font-size="4" dy="-2.4">2</tspan></text>
<text x="270.2" y="456.6" font-size="5.0" fill="#222" class="r">= 0.3525</text>
<text x="303.4" y="456.3" font-size="5.5" fill="#222" class="r">p value 0.0196</text>
<line x1="212.2" y1="464.3" x2="221.2" y2="464.3" stroke="#555555" stroke-width="1.2"/>
<circle cx="216.39999999999998" cy="464.3" r="2.7" fill="#b6b6b6" stroke="#111" stroke-width="1.15"/>
<text x="226.79999999999998" y="466.40000000000003" font-size="6.0" font-weight="bold" fill="#111">100 PAR</text>
<text x="260.4" y="466.6" font-size="5.6" fill="#222" class="r">R<tspan font-size="4" dy="-2.4">2</tspan></text>
<text x="270.2" y="466.6" font-size="5.0" fill="#222" class="r">= 0.4475</text>
<text x="303.4" y="466.3" font-size="5.5" fill="#222" class="r">p value 0.0064</text>
<text x="0.5" y="643" font-size="19.3" font-weight="bold" fill="#000">G</text>
<rect x="25.7" y="658.6" width="134.8" height="134.5" fill="none" stroke="#4a4a4a" stroke-width="1.5"/>
<line x1="22.2" y1="793.10" x2="25.7" y2="793.10" stroke="#4a4a4a" stroke-width="1.3"/>
<text x="20.9" y="795.50" font-size="7" font-weight="bold" text-anchor="end" fill="#111">0</text>
<line x1="22.2" y1="759.48" x2="25.7" y2="759.48" stroke="#4a4a4a" stroke-width="1.3"/>
<text x="20.9" y="761.88" font-size="7" font-weight="bold" text-anchor="end" fill="#111">4</text>
<line x1="22.2" y1="725.85" x2="25.7" y2="725.85" stroke="#4a4a4a" stroke-width="1.3"/>
<text x="20.9" y="728.25" font-size="7" font-weight="bold" text-anchor="end" fill="#111">8</text>
<line x1="22.2" y1="692.23" x2="25.7" y2="692.23" stroke="#4a4a4a" stroke-width="1.3"/>
<text x="20.9" y="694.62" font-size="7" font-weight="bold" text-anchor="end" fill="#111">12</text>
<line x1="22.2" y1="658.60" x2="25.7" y2="658.60" stroke="#4a4a4a" stroke-width="1.3"/>
<text x="20.9" y="661.00" font-size="7" font-weight="bold" text-anchor="end" fill="#111">16</text>
<line x1="25.70" y1="793.1" x2="25.70" y2="796.6" stroke="#4a4a4a" stroke-width="1.3"/>
<text x="25.70" y="804.1" font-size="7" font-weight="bold" text-anchor="middle" fill="#111">23</text>
<line x1="52.66" y1="793.1" x2="52.66" y2="796.6" stroke="#4a4a4a" stroke-width="1.3"/>
<text x="52.66" y="804.1" font-size="7" font-weight="bold" text-anchor="middle" fill="#111">24</text>
<line x1="79.62" y1="793.1" x2="79.62" y2="796.6" stroke="#4a4a4a" stroke-width="1.3"/>
<text x="79.62" y="804.1" font-size="7" font-weight="bold" text-anchor="middle" fill="#111">25</text>
<line x1="106.58" y1="793.1" x2="106.58" y2="796.6" stroke="#4a4a4a" stroke-width="1.3"/>
<text x="106.58" y="804.1" font-size="7" font-weight="bold" text-anchor="middle" fill="#111">26</text>
<line x1="133.54" y1="793.1" x2="133.54" y2="796.6" stroke="#4a4a4a" stroke-width="1.3"/>
<text x="133.54" y="804.1" font-size="7" font-weight="bold" text-anchor="middle" fill="#111">27</text>
<line x1="160.50" y1="793.1" x2="160.50" y2="796.6" stroke="#4a4a4a" stroke-width="1.3"/>
<text x="160.50" y="804.1" font-size="7" font-weight="bold" text-anchor="middle" fill="#111">28</text>
<text x="93.10" y="818.8" font-size="8.1" font-weight="bold" text-anchor="middle" fill="#111">SL (μm)</text>
<text transform="translate(8.4,727.3) rotate(-90)" x="0" y="0" font-size="8.2" font-weight="bold" text-anchor="middle" fill="#111">Half-time (min)</text>
<line x1="52" y1="759.8" x2="146.6" y2="746.8" stroke="#8a8a8a" stroke-width="1.4" stroke-dasharray="3.2,1.8"/>
<line x1="52" y1="759.5" x2="146.6" y2="762" stroke="#111" stroke-width="1.4" stroke-dasharray="2.6,1.6"/>
<line x1="62" y1="773.4" x2="146.6" y2="768" stroke="#c4c4c4" stroke-width="1.3" stroke-dasharray="3,2"/>
<circle cx="49.6" cy="771" r="2.7" fill="#fff" stroke="#111" stroke-width="1.15"/>
<circle cx="59" cy="768.6" r="2.7" fill="#fff" stroke="#111" stroke-width="1.15"/>
<circle cx="57.4" cy="776" r="2.7" fill="#fff" stroke="#111" stroke-width="1.15"/>
<circle cx="75.6" cy="787" r="2.7" fill="#fff" stroke="#111" stroke-width="1.15"/>
<circle cx="110" cy="760.6" r="2.7" fill="#fff" stroke="#111" stroke-width="1.15"/>
<circle cx="146.6" cy="768.6" r="2.7" fill="#fff" stroke="#111" stroke-width="1.15"/>
<circle cx="117.6" cy="771.6" r="2.7" fill="#fff" stroke="#111" stroke-width="1.15"/>
<circle cx="125" cy="771" r="2.7" fill="#fff" stroke="#111" stroke-width="1.15"/>
<circle cx="132" cy="776" r="2.7" fill="#fff" stroke="#111" stroke-width="1.15"/>
<circle cx="130.6" cy="778" r="2.7" fill="#fff" stroke="#111" stroke-width="1.15"/>
<circle cx="119.6" cy="778" r="2.7" fill="#fff" stroke="#111" stroke-width="1.15"/>
<circle cx="100" cy="781.4" r="2.7" fill="#fff" stroke="#111" stroke-width="1.15"/>
<circle cx="49.0" cy="760.2" r="2.7" fill="#111" stroke="#111" stroke-width="1.15"/>
<circle cx="59" cy="746.6" r="2.7" fill="#111" stroke="#111" stroke-width="1.15"/>
<circle cx="57.4" cy="771.6" r="2.7" fill="#111" stroke="#111" stroke-width="1.15"/>
<circle cx="75.6" cy="767.6" r="2.7" fill="#111" stroke="#111" stroke-width="1.15"/>
<circle cx="100" cy="737.6" r="2.7" fill="#111" stroke="#111" stroke-width="1.15"/>
<circle cx="105" cy="743" r="2.7" fill="#111" stroke="#111" stroke-width="1.15"/>
<circle cx="130.6" cy="741.6" r="2.7" fill="#111" stroke="#111" stroke-width="1.15"/>
<circle cx="117.6" cy="751.4" r="2.7" fill="#111" stroke="#111" stroke-width="1.15"/>
<circle cx="119" cy="765.4" r="2.7" fill="#111" stroke="#111" stroke-width="1.15"/>
<circle cx="134" cy="760" r="2.7" fill="#111" stroke="#111" stroke-width="1.15"/>
<circle cx="128.6" cy="765.4" r="2.7" fill="#111" stroke="#111" stroke-width="1.15"/>
<circle cx="132" cy="767.4" r="2.7" fill="#111" stroke="#111" stroke-width="1.15"/>
<circle cx="110" cy="773.4" r="2.7" fill="#111" stroke="#111" stroke-width="1.15"/>
<circle cx="130.6" cy="774" r="2.7" fill="#111" stroke="#111" stroke-width="1.15"/>
<circle cx="59" cy="730" r="2.7" fill="#b0b0b0" stroke="#111" stroke-width="1.15"/>
<circle cx="49.6" cy="761" r="2.7" fill="#b0b0b0" stroke="#111" stroke-width="1.15"/>
<circle cx="57.4" cy="783" r="2.7" fill="#b0b0b0" stroke="#111" stroke-width="1.15"/>
<circle cx="75.6" cy="778" r="2.7" fill="#b0b0b0" stroke="#111" stroke-width="1.15"/>
<circle cx="104.6" cy="695.6" r="2.7" fill="#b0b0b0" stroke="#111" stroke-width="1.15"/>
<circle cx="134" cy="728.4" r="2.7" fill="#b0b0b0" stroke="#111" stroke-width="1.15"/>
<circle cx="132" cy="743" r="2.7" fill="#b0b0b0" stroke="#111" stroke-width="1.15"/>
<circle cx="117.6" cy="760.4" r="2.7" fill="#b0b0b0" stroke="#111" stroke-width="1.15"/>
<circle cx="120" cy="764" r="2.7" fill="#b0b0b0" stroke="#111" stroke-width="1.15"/>
<circle cx="125" cy="760.6" r="2.7" fill="#b0b0b0" stroke="#111" stroke-width="1.15"/>
<circle cx="128.6" cy="760" r="2.7" fill="#b0b0b0" stroke="#111" stroke-width="1.15"/>
<circle cx="146.6" cy="757.6" r="2.7" fill="#b0b0b0" stroke="#111" stroke-width="1.15"/>
<circle cx="100" cy="770" r="2.7" fill="#b0b0b0" stroke="#111" stroke-width="1.15"/>
<line x1="28.7" y1="664" x2="37.7" y2="664" stroke="#8a8a8a" stroke-width="1.2"/>
<circle cx="32.9" cy="664" r="2.7" fill="#b0b0b0" stroke="#111" stroke-width="1.15"/>
<text x="44.3" y="667.0" font-size="6.0" font-weight="bold" fill="#111">T<tspan font-size="4.6" dy="1.6">-50%</tspan><tspan dy="-1.6">I</tspan></text>
<text x="76.9" y="666.3" font-size="5.6" fill="#222" class="r">R<tspan font-size="4" dy="-2.4">2</tspan></text>
<text x="86.7" y="666.3" font-size="5.0" fill="#222" class="r">= 0.1493</text>
<text x="118.7" y="666" font-size="5.5" fill="#222" class="r">p value 0.4457</text>
<circle cx="32.9" cy="675.4" r="2.7" fill="#fff" stroke="#111" stroke-width="1.15"/>
<text x="44.3" y="678.4" font-size="6.0" font-weight="bold" fill="#111">T<tspan font-size="4.6" dy="1.6">+50%</tspan><tspan dy="-1.6">II</tspan></text>
<text x="76.9" y="677.6999999999999" font-size="5.6" fill="#222" class="r">R<tspan font-size="4" dy="-2.4">2</tspan></text>
<text x="86.7" y="677.6999999999999" font-size="5.0" fill="#222" class="r">= 0.0082</text>
<text x="118.7" y="677.4" font-size="5.5" fill="#222" class="r">p value 0.6867</text>
<line x1="28.7" y1="686.4" x2="37.7" y2="686.4" stroke="#111" stroke-width="1.2"/>
<circle cx="32.9" cy="686.4" r="2.7" fill="#111" stroke="#111" stroke-width="1.15"/>
<text x="44.3" y="689.4" font-size="6.0" font-weight="bold" fill="#111">T<tspan font-size="4.6" dy="1.6">-50%</tspan><tspan dy="-1.6"> III</tspan></text>
<text x="76.9" y="688.6999999999999" font-size="5.6" fill="#222" class="r">R<tspan font-size="4" dy="-2.4">2</tspan></text>
<text x="86.7" y="688.6999999999999" font-size="5.0" fill="#222" class="r">= 0.0449</text>
<text x="118.7" y="688.4" font-size="5.5" fill="#222" class="r">p value 0.5903</text>
<text x="182" y="643" font-size="19.3" font-weight="bold" fill="#000">H</text>
<rect x="208.4" y="658.9" width="134.49999999999997" height="134.5" fill="none" stroke="#4a4a4a" stroke-width="1.5"/>
<line x1="204.9" y1="793.40" x2="208.4" y2="793.40" stroke="#4a4a4a" stroke-width="1.3"/>
<text x="203.6" y="795.80" font-size="7" font-weight="bold" text-anchor="end" fill="#111">0</text>
<line x1="204.9" y1="759.77" x2="208.4" y2="759.77" stroke="#4a4a4a" stroke-width="1.3"/>
<text x="203.6" y="762.17" font-size="7" font-weight="bold" text-anchor="end" fill="#111">4</text>
<line x1="204.9" y1="726.15" x2="208.4" y2="726.15" stroke="#4a4a4a" stroke-width="1.3"/>
<text x="203.6" y="728.55" font-size="7" font-weight="bold" text-anchor="end" fill="#111">8</text>
<line x1="204.9" y1="692.52" x2="208.4" y2="692.52" stroke="#4a4a4a" stroke-width="1.3"/>
<text x="203.6" y="694.92" font-size="7" font-weight="bold" text-anchor="end" fill="#111">12</text>
<line x1="204.9" y1="658.90" x2="208.4" y2="658.90" stroke="#4a4a4a" stroke-width="1.3"/>
<text x="203.6" y="661.30" font-size="7" font-weight="bold" text-anchor="end" fill="#111">16</text>
<line x1="208.40" y1="793.4" x2="208.40" y2="796.9" stroke="#4a4a4a" stroke-width="1.3"/>
<text x="208.40" y="804.4" font-size="7" font-weight="bold" text-anchor="middle" fill="#111">40</text>
<line x1="235.30" y1="793.4" x2="235.30" y2="796.9" stroke="#4a4a4a" stroke-width="1.3"/>
<text x="235.30" y="804.4" font-size="7" font-weight="bold" text-anchor="middle" fill="#111">60</text>
<line x1="262.20" y1="793.4" x2="262.20" y2="796.9" stroke="#4a4a4a" stroke-width="1.3"/>
<text x="262.20" y="804.4" font-size="7" font-weight="bold" text-anchor="middle" fill="#111">80</text>
<line x1="289.10" y1="793.4" x2="289.10" y2="796.9" stroke="#4a4a4a" stroke-width="1.3"/>
<text x="289.10" y="804.4" font-size="7" font-weight="bold" text-anchor="middle" fill="#111">100</text>
<line x1="316.00" y1="793.4" x2="316.00" y2="796.9" stroke="#4a4a4a" stroke-width="1.3"/>
<text x="316.00" y="804.4" font-size="7" font-weight="bold" text-anchor="middle" fill="#111">120</text>
<line x1="342.90" y1="793.4" x2="342.90" y2="796.9" stroke="#4a4a4a" stroke-width="1.3"/>
<text x="342.90" y="804.4" font-size="7" font-weight="bold" text-anchor="middle" fill="#111">140</text>
<text x="275.65" y="819.8" font-size="8.1" font-weight="bold" text-anchor="middle" fill="#111">SD (stomata/mm<tspan font-size="6" dx="0.9" dy="-2.9">2</tspan><tspan dy="2.9" dx="0.4">)</tspan></text>
<text transform="translate(191.4,727.3) rotate(-90)" x="0" y="0" font-size="8.2" font-weight="bold" text-anchor="middle" fill="#111">Half-time (min)</text>
<line x1="243" y1="735.0" x2="310.7" y2="773.0" stroke="#555" stroke-width="1.25"/>
<line x1="243" y1="755.6" x2="311.8" y2="765" stroke="#111" stroke-width="1.5" stroke-dasharray="3.4,1.8"/>
<line x1="246" y1="765" x2="310.7" y2="780.5" stroke="#c4c4c4" stroke-width="1.3" stroke-dasharray="3,2"/>
<circle cx="243" cy="776" r="2.7" fill="#fff" stroke="#111" stroke-width="1.15"/>
<circle cx="257" cy="771.4" r="2.7" fill="#fff" stroke="#111" stroke-width="1.15"/>
<circle cx="265" cy="772" r="2.7" fill="#fff" stroke="#111" stroke-width="1.15"/>
<circle cx="269" cy="771" r="2.7" fill="#fff" stroke="#111" stroke-width="1.15"/>
<circle cx="261.6" cy="778" r="2.7" fill="#fff" stroke="#111" stroke-width="1.15"/>
<circle cx="276" cy="760.4" r="2.7" fill="#fff" stroke="#111" stroke-width="1.15"/>
<circle cx="275" cy="781" r="2.7" fill="#fff" stroke="#111" stroke-width="1.15"/>
<circle cx="277" cy="761.5" r="2.7" fill="#fff" stroke="#111" stroke-width="1.15"/>
<circle cx="271" cy="769" r="2.7" fill="#fff" stroke="#111" stroke-width="1.15"/>
<circle cx="281.1" cy="769" r="2.7" fill="#fff" stroke="#111" stroke-width="1.15"/>
<circle cx="282.2" cy="778.6" r="2.7" fill="#fff" stroke="#111" stroke-width="1.15"/>
<circle cx="304.3" cy="771.4" r="2.7" fill="#fff" stroke="#111" stroke-width="1.15"/>
<circle cx="311.4" cy="775.4" r="2.7" fill="#fff" stroke="#111" stroke-width="1.15"/>
<circle cx="312.9" cy="787.2" r="2.7" fill="#fff" stroke="#111" stroke-width="1.15"/>
<circle cx="249" cy="743.6" r="2.7" fill="#111" stroke="#111" stroke-width="1.15"/>
<circle cx="275.4" cy="737.6" r="2.7" fill="#111" stroke="#111" stroke-width="1.15"/>
<circle cx="265" cy="751.6" r="2.7" fill="#111" stroke="#111" stroke-width="1.15"/>
<circle cx="253" cy="760" r="2.7" fill="#111" stroke="#111" stroke-width="1.15"/>
<circle cx="261" cy="765.6" r="2.7" fill="#111" stroke="#111" stroke-width="1.15"/>
<circle cx="268" cy="766" r="2.7" fill="#111" stroke="#111" stroke-width="1.15"/>
<circle cx="243" cy="767.4" r="2.7" fill="#111" stroke="#111" stroke-width="1.15"/>
<circle cx="276" cy="773" r="2.7" fill="#111" stroke="#111" stroke-width="1.15"/>
<circle cx="280.7" cy="746.7" r="2.7" fill="#111" stroke="#111" stroke-width="1.15"/>
<circle cx="277" cy="774" r="2.7" fill="#111" stroke="#111" stroke-width="1.15"/>
<circle cx="282.2" cy="774.6" r="2.7" fill="#111" stroke="#111" stroke-width="1.15"/>
<circle cx="313.5" cy="767.5" r="2.7" fill="#111" stroke="#111" stroke-width="1.15"/>
<circle cx="311.4" cy="771.8" r="2.7" fill="#111" stroke="#111" stroke-width="1.15"/>
<circle cx="249" cy="696" r="2.7" fill="#b0b0b0" stroke="#111" stroke-width="1.15"/>
<circle cx="253.4" cy="728.6" r="2.7" fill="#b0b0b0" stroke="#111" stroke-width="1.15"/>
<circle cx="243" cy="743" r="2.7" fill="#b0b0b0" stroke="#111" stroke-width="1.15"/>
<circle cx="257" cy="761" r="2.7" fill="#b0b0b0" stroke="#111" stroke-width="1.15"/>
<circle cx="265" cy="760.6" r="2.7" fill="#b0b0b0" stroke="#111" stroke-width="1.15"/>
<circle cx="269" cy="760" r="2.7" fill="#b0b0b0" stroke="#111" stroke-width="1.15"/>
<circle cx="271" cy="757.6" r="2.7" fill="#b0b0b0" stroke="#111" stroke-width="1.15"/>
<circle cx="261" cy="763.6" r="2.7" fill="#b0b0b0" stroke="#111" stroke-width="1.15"/>
<circle cx="275" cy="770" r="2.7" fill="#b0b0b0" stroke="#111" stroke-width="1.15"/>
<circle cx="281.1" cy="730.6" r="2.7" fill="#b0b0b0" stroke="#111" stroke-width="1.15"/>
<circle cx="282.2" cy="742.2" r="2.7" fill="#b0b0b0" stroke="#111" stroke-width="1.15"/>
<circle cx="271" cy="758.3" r="2.7" fill="#b0b0b0" stroke="#111" stroke-width="1.15"/>
<circle cx="275.4" cy="770.3" r="2.7" fill="#b0b0b0" stroke="#111" stroke-width="1.15"/>
<circle cx="303.9" cy="761" r="2.7" fill="#b0b0b0" stroke="#111" stroke-width="1.15"/>
<circle cx="313.5" cy="778.2" r="2.7" fill="#b0b0b0" stroke="#111" stroke-width="1.15"/>
<circle cx="311.4" cy="783.6" r="2.7" fill="#b0b0b0" stroke="#111" stroke-width="1.15"/>
<line x1="212.0" y1="664" x2="221.0" y2="664" stroke="#8a8a8a" stroke-width="1.2"/>
<circle cx="216.2" cy="664" r="2.7" fill="#b0b0b0" stroke="#111" stroke-width="1.15"/>
<text x="227.0" y="667.0" font-size="6.0" font-weight="bold" fill="#111">T<tspan font-size="4.6" dy="1.6">-50%</tspan><tspan dy="-1.6">I</tspan></text>
<text x="260.2" y="666.3" font-size="5.6" fill="#222" class="r">R<tspan font-size="4" dy="-2.4">2</tspan></text>
<text x="270.0" y="666.3" font-size="5.0" fill="#222" class="r">= 0.3534</text>
<text x="303.5" y="666" font-size="5.5" fill="#222" class="r">p value 0.0249</text>
<circle cx="216.2" cy="675.4" r="2.7" fill="#fff" stroke="#111" stroke-width="1.15"/>
<text x="227.0" y="678.4" font-size="6.0" font-weight="bold" fill="#111">T<tspan font-size="4.6" dy="1.6">+50%</tspan><tspan dy="-1.6">II</tspan></text>
<text x="260.2" y="677.6999999999999" font-size="5.6" fill="#222" class="r">R<tspan font-size="4" dy="-2.4">2</tspan></text>
<text x="270.0" y="677.6999999999999" font-size="5.0" fill="#222" class="r">= 0.0770</text>
<text x="303.5" y="677.4" font-size="5.5" fill="#222" class="r">p value 0.3144</text>
<line x1="212.0" y1="686.4" x2="221.0" y2="686.4" stroke="#111" stroke-width="1.2"/>
<circle cx="216.2" cy="686.4" r="2.7" fill="#111" stroke="#111" stroke-width="1.15"/>
<text x="227.0" y="689.4" font-size="6.0" font-weight="bold" fill="#111">T<tspan font-size="4.6" dy="1.6">-50%</tspan><tspan dy="-1.6"> III</tspan></text>
<text x="260.2" y="688.6999999999999" font-size="5.6" fill="#222" class="r">R<tspan font-size="4" dy="-2.4">2</tspan></text>
<text x="270.0" y="688.6999999999999" font-size="5.0" fill="#222" class="r">= 0.2323</text>
<text x="303.5" y="688.4" font-size="5.5" fill="#222" class="r">p value 0.0688</text>
</svg></body></html>
